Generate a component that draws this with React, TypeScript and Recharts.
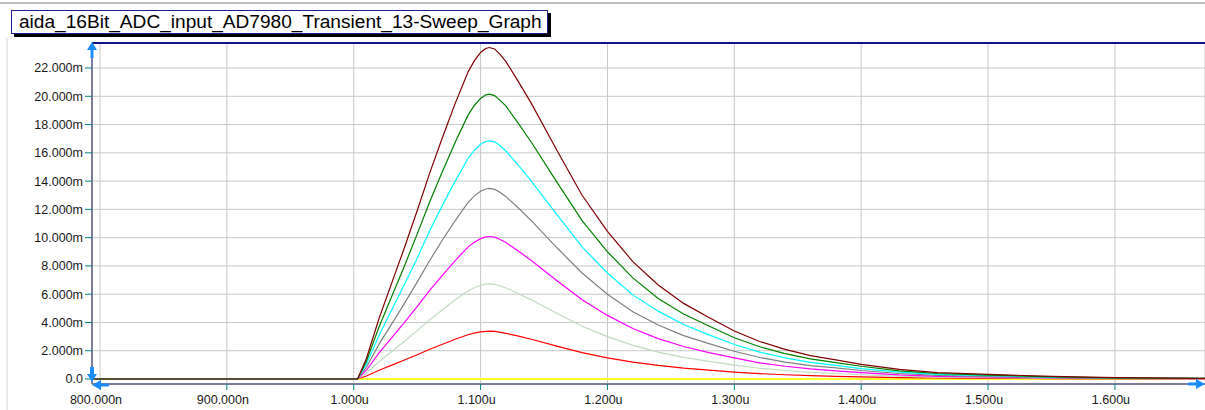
import React from "react"
import {
  LineChart,
  Line,
  XAxis,
  YAxis,
  CartesianGrid,
  ReferenceLine,
} from "recharts"

// time axis in ns, node voltage in mV
const TIME_NS = [
  793.7, 1000, 1003, 1010, 1020, 1030, 1040, 1050, 1060, 1070, 1080, 1090, 1095, 1100,
  1104, 1107, 1111, 1115, 1120, 1130, 1140, 1160, 1180, 1200, 1220, 1240, 1260, 1280,
  1300, 1320, 1340, 1360, 1380, 1400, 1430, 1460, 1500, 1550, 1600, 1671,
]

const SWEEP_0 = [
  0, 0, 0, 0, 0, 0, 0, 0, 0, 0, 0, 0, 0, 0, 0, 0, 0, 0, 0, 0, 0, 0, 0, 0, 0, 0, 0, 0,
  0, 0, 0, 0, 0, 0, 0, 0, 0, 0, 0, 0,
]
const SWEEP_1 = [
  0, 0, 0, 0.21, 0.62, 0.98, 1.34, 1.72, 2.1, 2.46, 2.81, 3.13, 3.24, 3.33, 3.37, 3.38,
  3.37, 3.32, 3.23, 3.03, 2.81, 2.33, 1.87, 1.5, 1.2, 0.96, 0.77, 0.63, 0.49, 0.38, 0.3,
  0.24, 0.19, 0.15, 0.1, 0.07, 0.05, 0.03, 0.01, 0.01,
]
const SWEEP_2 = [
  0, 0, 0, 0.42, 1.23, 1.95, 2.67, 3.42, 4.2, 4.9, 5.6, 6.23, 6.46, 6.63, 6.71, 6.73,
  6.7, 6.6, 6.44, 6.03, 5.6, 4.65, 3.73, 3.0, 2.38, 1.9, 1.53, 1.25, 0.98, 0.76, 0.6,
  0.47, 0.39, 0.3, 0.2, 0.13, 0.09, 0.05, 0.03, 0.01,
]
const SWEEP_3 = [
  0, 0, 0, 0.62, 1.85, 2.92, 4.0, 5.12, 6.28, 7.35, 8.38, 9.33, 9.67, 9.93, 10.05, 10.08,
  10.04, 9.89, 9.65, 9.03, 8.38, 6.97, 5.6, 4.5, 3.57, 2.86, 2.3, 1.87, 1.5, 1.14, 0.9,
  0.71, 0.58, 0.45, 0.29, 0.19, 0.14, 0.08, 0.04, 0.02,
]
const SWEEP_4 = [
  0, 0, 0, 0.83, 2.47, 3.9, 5.35, 6.85, 8.4, 9.85, 11.2, 12.48, 12.94, 13.28, 13.44, 13.48,
  13.42, 13.22, 12.9, 12.08, 11.2, 9.3, 7.5, 6.0, 4.75, 3.82, 3.07, 2.5, 1.96, 1.52, 1.2,
  0.95, 0.78, 0.6, 0.39, 0.26, 0.19, 0.1, 0.05, 0.03,
]
const SWEEP_5 = [
  0, 0, 0, 1.05, 3.1, 4.9, 6.7, 8.55, 10.5, 12.3, 14.0, 15.6, 16.17, 16.6, 16.8, 16.85,
  16.78, 16.53, 16.13, 15.1, 14.0, 11.65, 9.35, 7.5, 5.95, 4.8, 3.85, 3.12, 2.44, 1.9,
  1.5, 1.18, 0.97, 0.74, 0.49, 0.32, 0.24, 0.13, 0.07, 0.04,
]
const SWEEP_6 = [
  0, 0, 0, 1.25, 3.7, 5.85, 8.0, 10.25, 12.55, 14.7, 16.75, 18.65, 19.35, 19.85, 20.1,
  20.15, 20.05, 19.75, 19.3, 18.05, 16.75, 13.95, 11.2, 9.0, 7.15, 5.7, 4.6, 3.75, 2.92,
  2.28, 1.8, 1.42, 1.16, 0.9, 0.58, 0.39, 0.28, 0.15, 0.08, 0.04,
]
const SWEEP_7 = [
  0, 0, 0, 1.45, 4.3, 6.8, 9.3, 11.9, 14.6, 17.1, 19.5, 21.7, 22.5, 23.1, 23.38, 23.45,
  23.35, 23.0, 22.45, 21.0, 19.5, 16.2, 13.0, 10.45, 8.3, 6.65, 5.35, 4.35, 3.4, 2.65,
  2.1, 1.65, 1.35, 1.04, 0.68, 0.45, 0.33, 0.18, 0.09, 0.05,
]

const X_TICKS = [800, 900, 1000, 1100, 1200, 1300, 1400, 1500, 1600]
const Y_TICKS = [0, 2, 4, 6, 8, 10, 12, 14, 16, 18, 20, 22]
const X_DOMAIN: [number, number] = [793.7, 1671]
const Y_DOMAIN: [number, number] = [-0.354, 23.77]

const TITLE = "aida_16Bit_ADC_input_AD7980_Transient_13-Sweep_Graph"

// drawn bottom to top
const SERIES = [
  { key: "s0", values: SWEEP_0, color: "#ffff22" },
  { key: "s1", values: SWEEP_1, color: "#ff0000" },
  { key: "s2", values: SWEEP_2, color: "#c0dcc0" },
  { key: "s3", values: SWEEP_3, color: "#ff00ff" },
  { key: "s4", values: SWEEP_4, color: "#808080" },
  { key: "s5", values: SWEEP_5, color: "#00ffff" },
  { key: "s6", values: SWEEP_6, color: "#008000" },
  { key: "s7", values: SWEEP_7, color: "#800000" },
]

const rows = TIME_NS.map((t, i) => {
  const row: Record<string, number> = { t }
  SERIES.forEach(s => {
    row[s.key] = s.values[i]
  })
  return row
})

const FONT = "'Liberation Sans', Arial, sans-serif"
const AXIS = "#7c7c9c"
const TICK = "#008080"
const ARROW = "#1a8cff"

const fmtTime = (v: number) =>
  v < 1000 ? `${v.toFixed(3)}n` : `${(v / 1000).toFixed(3)}u`
const fmtVolt = (v: number) => (v === 0 ? "0.0" : `${v.toFixed(3)}m`)

export default function App() {
  return (
    <div
      style={{
        position: "absolute",
        left: 0,
        top: 0,
        width: 1205,
        height: 410,
        background: "#fff",
        overflow: "hidden",
        fontFamily: FONT,
      }}
    >
      <LineChart
        width={1205}
        height={410}
        data={rows}
        margin={{ top: 43, right: 0, bottom: 0, left: 0 }}
      >
        <CartesianGrid stroke="#c8c8c8" strokeWidth={1} />
        <XAxis
          dataKey="t"
          type="number"
          domain={X_DOMAIN}
          ticks={X_TICKS}
          allowDataOverflow
          tickFormatter={fmtTime}
          height={26}
          axisLine={{ stroke: AXIS, strokeWidth: 2 }}
          tickLine={{ stroke: TICK, strokeWidth: 1 }}
          tickSize={6}
          tickMargin={5}
          tick={{ fill: "#1a1a1a", fontSize: 12.5, fontFamily: FONT, dx: -4 }}
        />
        <YAxis
          type="number"
          domain={Y_DOMAIN}
          ticks={Y_TICKS}
          allowDataOverflow
          tickFormatter={fmtVolt}
          width={92}
          axisLine={{ stroke: AXIS, strokeWidth: 2 }}
          tickLine={{ stroke: TICK, strokeWidth: 1 }}
          tickSize={7}
          tickMargin={2}
          tick={{ fill: "#1a1a1a", fontSize: 12.5, fontFamily: FONT }}
        />
        <ReferenceLine y={Y_DOMAIN[1]} stroke="#10108a" strokeWidth={2} />
        {SERIES.map(s => (
          <Line
            key={s.key}
            dataKey={s.key}
            type="linear"
            stroke={s.color}
            strokeWidth={s.key === "s0" ? 1.8 : 1.2}
            dot={false}
            activeDot={false}
            isAnimationActive={false}
          />
        ))}
      </LineChart>

      {/* frame pieces and axis arrows */}
      <svg
        width={1205}
        height={410}
        style={{ position: "absolute", left: 0, top: 0, pointerEvents: "none" }}
      >
        <line x1={0} y1={3} x2={1205} y2={3} stroke="#a8a8a8" strokeWidth={1.5} />
        <line x1={7} y1={38} x2={7} y2={410} stroke="#d0d0d0" strokeWidth={1} />
        {/* y axis top arrow */}
        <polygon points="92,42 87,50 90.5,50 90.5,58 93.5,58 93.5,50 97,50" fill={ARROW} />
        {/* y axis bottom arrow */}
        <polygon points="90,367 94,367 94,374 97,374 92,382 87,374 90,374" fill={ARROW} />
        {/* x axis left arrow */}
        <polygon points="92,385 101,380 101,383.5 109,383.5 109,386.5 101,386.5 101,390" fill={ARROW} />
        {/* x axis right arrow */}
        <polygon points="1205,384 1196,379 1196,382.5 1188,382.5 1188,385.5 1196,385.5 1196,389" fill={ARROW} />
      </svg>

      <div
        style={{
          position: "absolute",
          left: 11,
          top: 10,
          width: 528,
          height: 22,
          border: "1.5px solid #1c1c8c",
          boxShadow: "3px 3px 0 #000",
          background: "#fff",
          color: "#000",
          fontSize: 19.1,
          lineHeight: "22px",
          paddingLeft: 7,
          boxSizing: "content-box",
          whiteSpace: "nowrap",
          overflow: "hidden",
        }}
      >
        {TITLE}
      </div>
    </div>
  )
}
